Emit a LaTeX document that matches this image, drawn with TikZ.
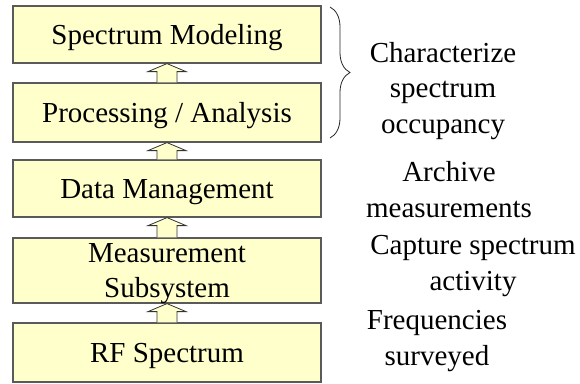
\documentclass[tikz,border=0pt]{standalone}
\usepackage{fontspec}
\setmainfont{Liberation Serif}
\usetikzlibrary{calc,decorations.pathreplacing}
\definecolor{boxfill}{RGB}{255,255,204}
\definecolor{boxline}{RGB}{90,90,90}
\begin{document}
\begin{tikzpicture}[x=1pt,y=-1pt,
  layerbox/.style={draw=boxline, fill=boxfill, line width=1.2pt, minimum width=308pt,
    minimum height=57pt, inner sep=0pt, font=\fontsize{29}{35}\selectfont,
    text height=19.2pt, text depth=0pt, align=center},
  upconn/.style={draw=black!80, fill=boxfill, line width=0.8pt, line join=miter},
  note/.style={font=\fontsize{29}{35.5}\selectfont, align=center, inner sep=0pt, anchor=base},
  bracemark/.style={draw=black!85, line width=0.8pt, decorate, decoration={brace, amplitude=20pt}}]
\useasboundingbox (0,0) rectangle (580,383);
\node[layerbox] (model) at (167,34.5) {Spectrum Modeling};
\node[layerbox, minimum height=59pt] (proc) at (167,112.5) {Processing / Analysis};
\node[layerbox] (data) at (167,188.5) {Data Management};
\node[layerbox, minimum height=65pt, text height=54.2pt, text depth=0pt] (meas) at (167,270.5) {Measurement\\Subsystem};
\node[layerbox, minimum height=59pt] (rf) at (167,352.5) {RF Spectrum};
\foreach \lo/\hi in {proc/model, data/proc, meas/data, rf/meas}
  \draw[upconn] ($(\lo.north)+(-10,0)$) -- ($(\hi.south)+(-10,8)$) -- ($(\hi.south)+(-19,8)$)
    -- (\hi.south) -- ($(\hi.south)+(19,8)$) -- ($(\hi.south)+(10,8)$) -- ($(\lo.north)+(10,0)$);
\coordinate (bracetop) at (330,7);
\coordinate (bracebot) at (330,138);
\draw[bracemark] (bracetop) -- (bracebot);
\node[note] (occ) at (443,133) {Characterize\\spectrum\\occupancy};
\node[note] (arch) at (449,217) {Archive\\measurements};
\node[note] (capt) at (473,290) {Capture spectrum\\activity};
\node[note] (freq) at (437,365) {Frequencies\\surveyed};
\end{tikzpicture}
\end{document}
